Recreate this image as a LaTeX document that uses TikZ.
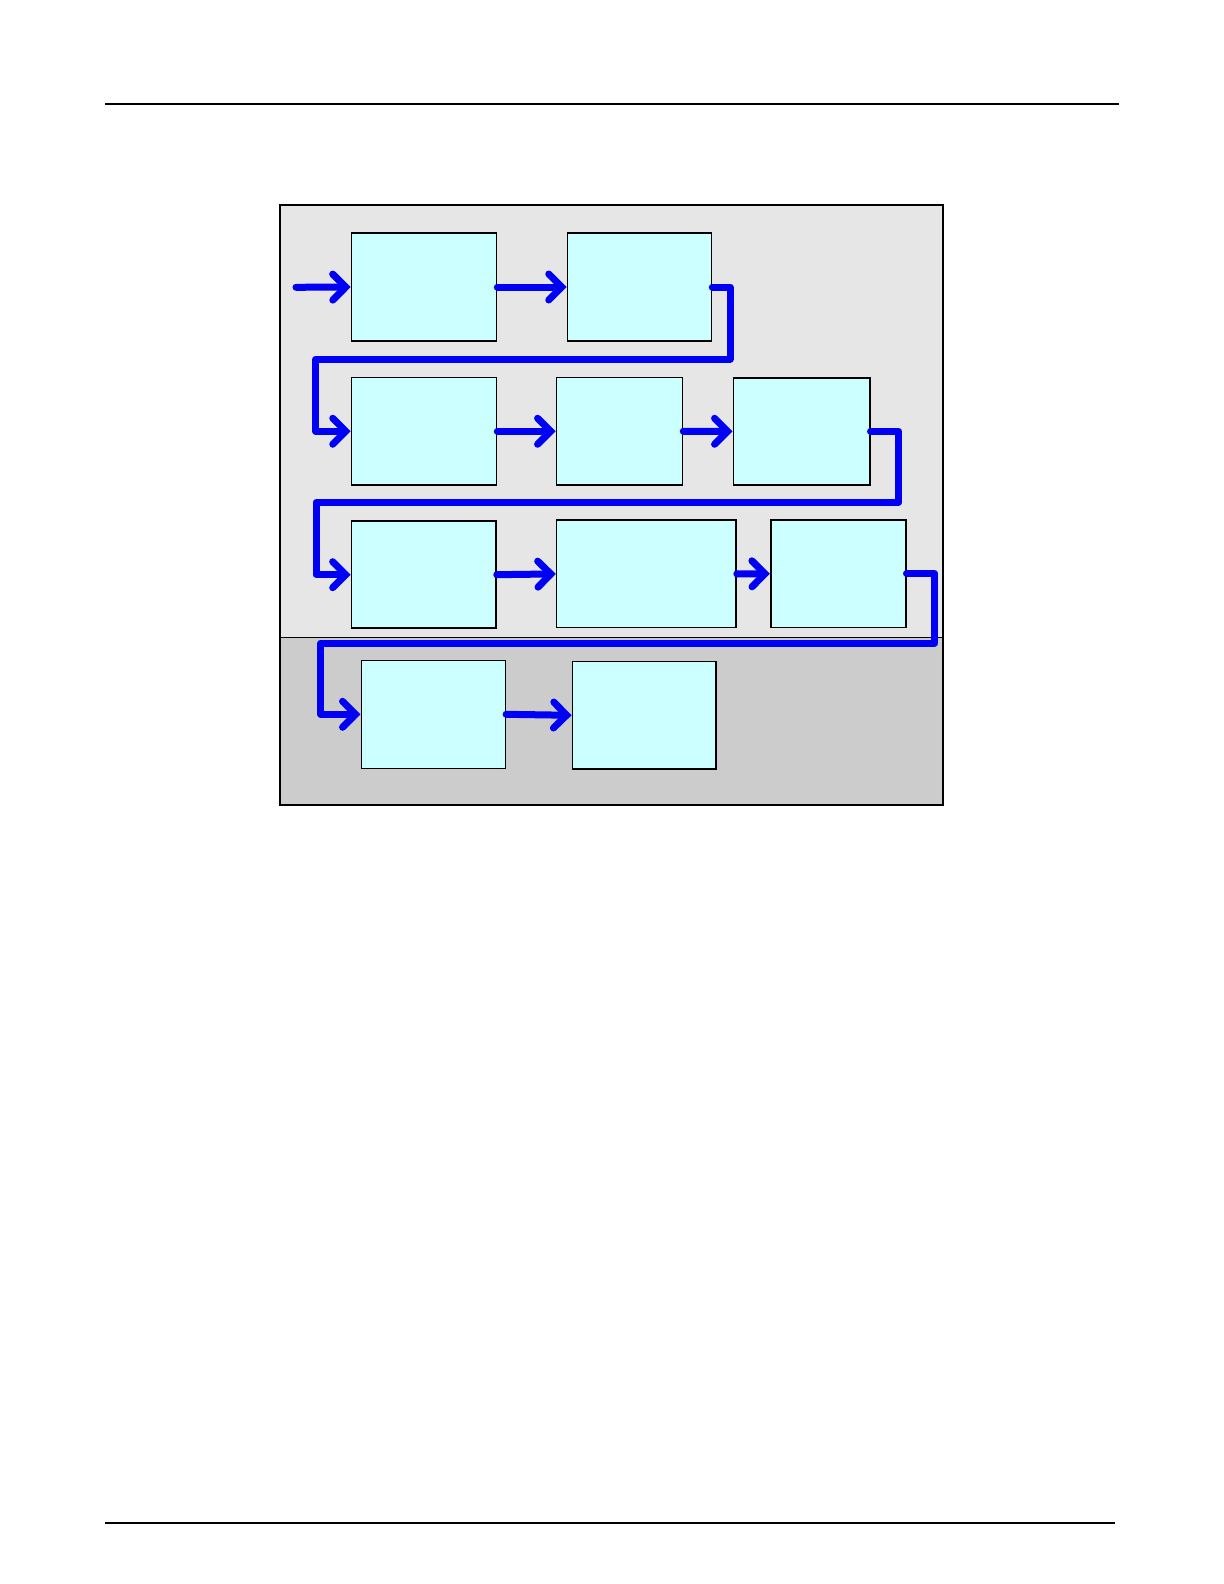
\documentclass[tikz,border=0pt]{standalone}
\usetikzlibrary{arrows.meta}
\definecolor{panel}{RGB}{230,230,230}
\definecolor{panelDark}{RGB}{204,204,204}
\definecolor{boxFill}{RGB}{204,255,255}
\definecolor{flow}{RGB}{0,0,245}
\begin{document}
\begin{tikzpicture}[x=0.5pt,y=-0.5pt,
  stage/.style={draw=black, line width=0.8pt, fill=boxFill, inner sep=0pt, minimum height=54pt},
  flowline/.style={draw=flow, line width=3.5pt, line cap=round, line join=round,
    -{Straight Barb[length=6.5pt,width=13pt,line cap=round]}}]
\useasboundingbox (0,0) rectangle (1224,1584);
% page rules
\draw [line width=1pt] (105,104.5) -- (1119,104.5);
\draw [line width=0.7pt] (105,1523) -- (1115,1523);
% panels
\fill [panel] (280,205) rectangle (942.5,637.5);
\fill [panelDark] (280,637.5) rectangle (942.5,804.5);
\draw [line width=0.5pt] (280,637.5) -- (942.5,637.5);
\draw [line width=1pt] (280,205) rectangle (942.5,804.5);
% stages
\node [stage, minimum width=72.5pt] (s1) at (424,287) {};
\node [stage, minimum width=72pt] (s2) at (639.5,287) {};
\node [stage, minimum width=72.5pt, minimum height=53.75pt] (s3) at (424,431.25) {};
\node [stage, minimum width=63.1pt, minimum height=53.75pt] (s4) at (619.4,431.25) {};
\node [stage, minimum width=68.2pt, minimum height=53.5pt] (s5) at (801.5,431.3) {};
\node [stage, minimum width=72.25pt, minimum height=53.5pt] (s6) at (423.7,574.7) {};
\node [stage, minimum width=89.7pt, minimum height=53.65pt] (s7) at (646.3,573.9) {};
\node [stage, minimum width=67.5pt, minimum height=53.65pt] (s8) at (838.2,573.7) {};
\node [stage, minimum width=72pt] (s9) at (433.3,714.3) {};
\node [stage, minimum width=71.85pt, minimum height=53.85pt] (s10) at (644.2,715.3) {};
% turning points
\coordinate (in) at (296,287.3);
\coordinate (t1) at (315.7,359);
\coordinate (t2) at (316,502.3);
\coordinate (t3) at (320.7,643);
% flow
\draw [flowline] (in) -- (s1.west);
\draw [flowline] (s1.east) -- (s2.west);
\draw [flowline] (s2.east) -- ++(17.8,0) |- (t1) |- (s3.west);
\draw [flowline] (s3.east) -- (s4.west);
\draw [flowline] (s4.east) -- (s5.west);
\draw [flowline] (s5.east) -- ++(28.3,0) |- (t2) |- (s6.west);
\draw [flowline] (s6.east) -- (s7.west);
\draw [flowline] (s7.east) -- (s8.west);
\draw [flowline] (s8.east) -- ++(28.3,0) |- (t3) |- (s9.west);
\draw [flowline] (s9.east) -- (s10.west);
\end{tikzpicture}
\end{document}
